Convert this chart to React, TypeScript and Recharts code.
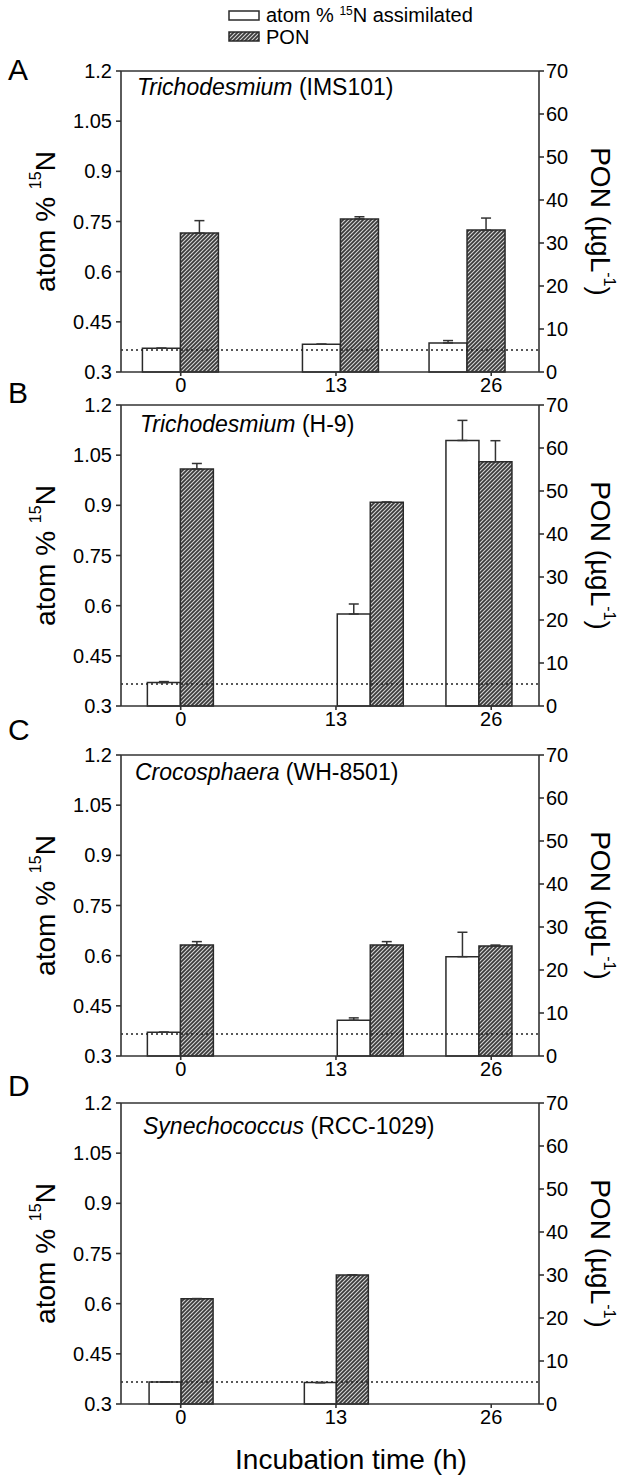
import { BarChart, Bar, XAxis, YAxis, ErrorBar, ReferenceLine } from 'recharts'

const FONT = '"Liberation Sans", Arial, Helvetica, sans-serif'

// shared axes
const hours = [0, 13, 26]
const atomTicks = [0.3, 0.45, 0.6, 0.75, 0.9, 1.05, 1.2]
const ponTicks = [0, 10, 20, 30, 40, 50, 60, 70]
const naturalAbundance = 0.366

// A: Trichodesmium (IMS101) - plotted x position of each group (h)
const posA = [0, 13.4, 24]
const atomA = [0.371, 0.383, 0.387]
const atomErrA = [0, 0, 0.007]
const ponA = [32.3, 35.6, 33.0]
const ponErrA = [2.9, 0.5, 2.8]

// B: Trichodesmium (H-9)
const posB = [0, 15.9, 25]
const atomB = [0.37, 0.575, 1.094]
const atomErrB = [0.003, 0.03, 0.06]
const ponB = [55.1, 47.4, 56.8]
const ponErrB = [1.3, 0, 4.9]

// C: Crocosphaera (WH-8501)
const posC = [0, 15.9, 25]
const atomC = [0.371, 0.407, 0.597]
const atomErrC = [0, 0.007, 0.073]
const ponC = [25.8, 25.8, 25.6]
const ponErrC = [0.8, 0.8, 0.2]

// D: Synechococcus (RCC-1029), no 26 h sample
const posD = [0, 13]
const atomD = [0.366, 0.364]
const atomErrD = [0, 0]
const ponD = [24.5, 30.0]
const ponErrD = [0, 0]

const AXIS = { stroke: '#333', strokeWidth: 1.6 }
const TICK = { fill: '#000', fontSize: 20, fontFamily: FONT }

function Hatch({ id }: { id: string }) {
  return (
    <pattern id={id} patternUnits="userSpaceOnUse" width={4} height={4}>
      <rect width={4} height={4} fill="#3a3a3a" />
      <path d="M-1,1 L1,-1 M0,4 L4,0 M3,5 L5,3" stroke="#d4d4d4" strokeWidth={1.1} />
    </pattern>
  )
}

function LeftTitle({ viewBox }: any) {
  const cx = 45
  const cy = viewBox.y + viewBox.height / 2
  return (
    <text x={cx} y={cy} transform={`rotate(-90 ${cx} ${cy})`} textAnchor="middle"
      dominantBaseline="central" fontSize={28} fontFamily={FONT} fill="#000">
      atom %{' '}<tspan dy={-10} fontSize={16}>15</tspan><tspan dy={10}>N</tspan>
    </text>
  )
}

function RightTitle({ viewBox }: any) {
  const cx = 600
  const cy = viewBox.y + viewBox.height / 2
  return (
    <text x={cx} y={cy} transform={`rotate(90 ${cx} ${cy})`} textAnchor="middle"
      dominantBaseline="central" fontSize={28} fontFamily={FONT} fill="#000">
      PON (µgL<tspan dy={-10} fontSize={16}>-1</tspan><tspan dy={10}>)</tspan>
    </text>
  )
}

interface PanelProps {
  id: string
  top: number
  species: string
  strain: string
  titleX: number
  titleY: number
  letterY: number
  barSize: number
  pos: number[]
  atom: number[]
  atomErr: number[]
  pon: number[]
  ponErr: number[]
}

function Panel(p: PanelProps) {
  const data = p.pos.map((x, i) => ({
    pos: x,
    hour: hours[i],
    atom: p.atom[i],
    atomErr: [0, p.atomErr[i]],
    pon: p.pon[i],
    ponErr: [0, p.ponErr[i]],
  }))
  const hatchId = `hatch${p.id}`
  return (
    <>
      <div style={{ position: 'absolute', left: 8, top: p.letterY - 17, fontSize: 30, fontFamily: FONT, color: '#000' }}>
        {p.id}
      </div>
      <div style={{ position: 'absolute', left: 0, top: p.top - 10 }}>
        <BarChart width={622} height={341} data={data} barGap={0}
          margin={{ top: 10, right: 23, bottom: 0, left: 61 }}>
          <defs>
            <Hatch id={hatchId} />
          </defs>
          <XAxis dataKey="pos" type="number" domain={[-5, 30]} ticks={hours} height={30}
            axisLine={AXIS} tickLine={AXIS} tickSize={4} tick={TICK} />
          <YAxis yAxisId="atom" orientation="left" domain={[0.3, 1.2]} ticks={atomTicks} width={60}
            axisLine={AXIS} tickLine={AXIS} tickSize={5} tickMargin={4} tick={TICK} interval={0}
            label={<LeftTitle />} />
          <YAxis yAxisId="pon" orientation="right" domain={[0, 70]} ticks={ponTicks} width={60}
            axisLine={AXIS} tickLine={AXIS} tickSize={5} tick={TICK} interval={0}
            label={<RightTitle />} />
          <ReferenceLine yAxisId="atom" y={naturalAbundance} stroke="#222" strokeWidth={1.6} strokeDasharray="2 3" />
          <ReferenceLine yAxisId="atom" y={1.2} stroke="#333" strokeWidth={1.6} />
          <Bar yAxisId="atom" dataKey="atom" fill="#fff" stroke="#2a2a2a" strokeWidth={1.5}
            barSize={p.barSize} isAnimationActive={false}>
            <ErrorBar dataKey="atomErr" direction="y" width={5} stroke="#333" strokeWidth={1.5} />
          </Bar>
          <Bar yAxisId="pon" dataKey="pon" fill={`url(#${hatchId})`} stroke="#2a2a2a" strokeWidth={1.5}
            barSize={p.barSize} isAnimationActive={false}>
            <ErrorBar dataKey="ponErr" direction="y" width={5} stroke="#333" strokeWidth={1.5} />
          </Bar>
        </BarChart>
      </div>
      <div style={{ position: 'absolute', left: p.titleX, top: p.titleY - 14, fontSize: 23, fontFamily: FONT, color: '#000', whiteSpace: 'nowrap' }}>
        <i>{p.species}</i> ({p.strain})
      </div>
    </>
  )
}

export default function App() {
  return (
    <div style={{ position: 'absolute', left: 0, top: 0, width: 622, height: 1483, background: '#fff', fontFamily: FONT }}>
      <svg width={622} height={55} style={{ position: 'absolute', left: 0, top: 0 }}>
        <defs>
          <Hatch id="hatchLegend" />
        </defs>
        <rect x={229} y={11} width={30} height={9} fill="#fff" stroke="#2a2a2a" strokeWidth={1.5} />
        <text x={266} y={22} fontSize={20} fontFamily={FONT} fill="#000">
          atom %{' '}<tspan dy={-7} fontSize={12}>15</tspan><tspan dy={7}>N assimilated</tspan>
        </text>
        <rect x={229} y={32} width={30} height={9} fill="url(#hatchLegend)" stroke="#2a2a2a" strokeWidth={1.5} />
        <text x={266} y={44} fontSize={20} fontFamily={FONT} fill="#000">PON</text>
      </svg>
      <Panel id="A" top={71} species="Trichodesmium" strain="IMS101" titleX={137} titleY={88} letterY={70}
        barSize={38} pos={posA} atom={atomA} atomErr={atomErrA} pon={ponA} ponErr={ponErrA} />
      <Panel id="B" top={405} species="Trichodesmium" strain="H-9" titleX={140} titleY={425} letterY={393}
        barSize={33} pos={posB} atom={atomB} atomErr={atomErrB} pon={ponB} ponErr={ponErrB} />
      <Panel id="C" top={755} species="Crocosphaera" strain="WH-8501" titleX={135} titleY={773} letterY={730}
        barSize={33} pos={posC} atom={atomC} atomErr={atomErrC} pon={ponC} ponErr={ponErrC} />
      <Panel id="D" top={1103} species="Synechococcus" strain="RCC-1029" titleX={143} titleY={1127} letterY={1086}
        barSize={32} pos={posD} atom={atomD} atomErr={atomErrD} pon={ponD} ponErr={ponErrD} />
      <div style={{ position: 'absolute', left: 0, width: 702, top: 1444, textAlign: 'center', fontSize: 28, fontFamily: FONT, color: '#000' }}>
        Incubation time (h)
      </div>
    </div>
  )
}
